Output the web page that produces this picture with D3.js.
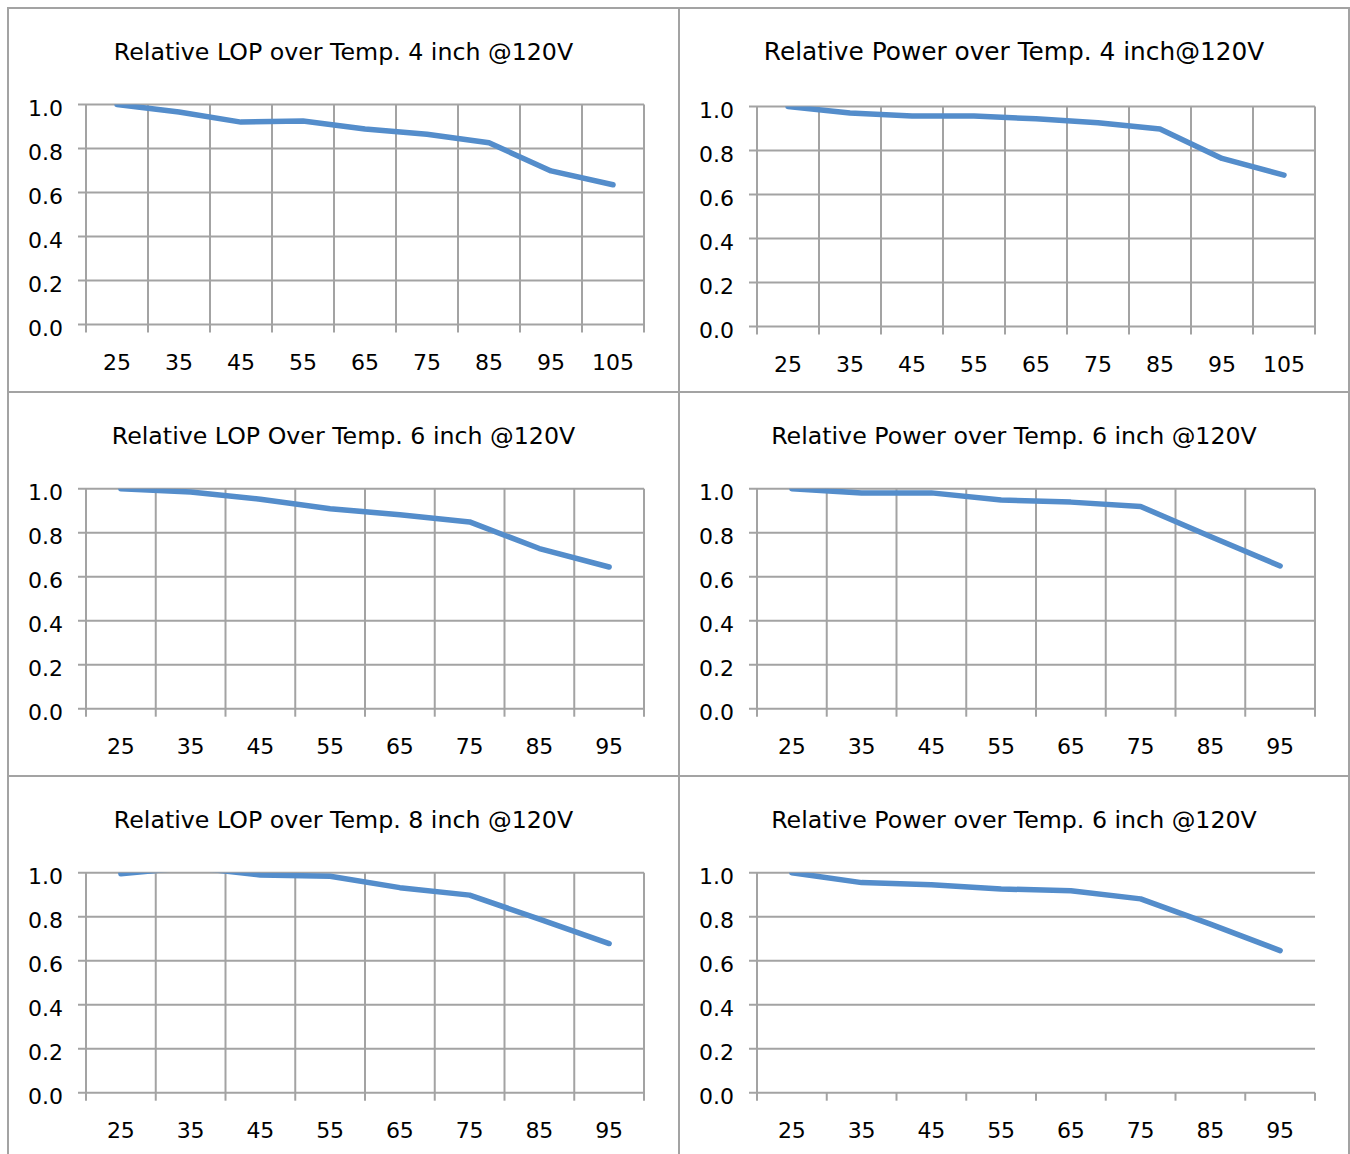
<!DOCTYPE html>
<html>
<head>
<meta charset="utf-8">
<script src="https://cdn.jsdelivr.net/npm/d3@7"></script>
<style>
  body { margin: 0; background: #fff; }
  svg text { font-family: "DejaVu Sans", Verdana, sans-serif; fill: #000; }
</style>
</head>
<body>
<div id="chart"></div>
<script>
// categories (temperature, deg C)
const temps9 = [25, 35, 45, 55, 65, 75, 85, 95, 105];
const temps8 = [25, 35, 45, 55, 65, 75, 85, 95];

const titles = [
  "Relative LOP over Temp. 4 inch @120V",
  "Relative Power over Temp. 4 inch@120V",
  "Relative LOP Over Temp. 6 inch @120V",
  "Relative Power over Temp. 6 inch @120V",
  "Relative LOP over Temp. 8 inch @120V",
  "Relative Power over Temp. 6 inch @120V"
];

// series values
const lop4 = [1.0, 0.966, 0.92, 0.925, 0.889, 0.865, 0.826, 0.698, 0.635];
const power4 = [1.0, 0.97, 0.957, 0.957, 0.944, 0.926, 0.898, 0.764, 0.688];
const lop6 = [1.0, 0.985, 0.952, 0.909, 0.882, 0.849, 0.728, 0.644];
const power6 = [1.0, 0.981, 0.981, 0.949, 0.939, 0.919, 0.783, 0.649];
const lop8 = [0.995, 1.025, 0.99, 0.984, 0.932, 0.898, 0.789, 0.678];
const power6b = [1.0, 0.955, 0.945, 0.926, 0.918, 0.881, 0.766, 0.646];

const yTicks = [0, 0.2, 0.4, 0.6, 0.8, 1.0];

const charts = [
  { title: titles[0], cats: temps9, values: lop4, vgrid: true },
  { title: titles[1], cats: temps9, values: power4, vgrid: true },
  { title: titles[2], cats: temps8, values: lop6, vgrid: true },
  { title: titles[3], cats: temps8, values: power6, vgrid: true },
  { title: titles[4], cats: temps8, values: lop8, vgrid: true },
  { title: titles[5], cats: temps8, values: power6b, vgrid: false }
];

const width = 1350;
const height = 1154;
const gridColor = "#a3a3a3";
const lineColor = "#548dcb";

// panel boxes and plot areas
const colX = [8, 679];
const colW = [671, 670];
const rowY = [8, 392, 776];
const rowH = 384;
const plotLeft = [86, 757];
const plotTop = [[104.5, 106.5], [488.7, 488.7], [872.7, 872.7]];
const plotW = 558;
const plotH = 220;
// the top right title is set a bit larger in the original
const titleSize = ["23.7px", "24.8px", "23.7px", "23.7px", "23.7px", "23.7px"];

const svg = d3
  .select("#chart")
  .append("svg")
  .attr("width", width)
  .attr("height", height);

charts.forEach((c, i) => {
  const col = i % 2;
  const row = Math.floor(i / 2);
  const left = plotLeft[col];
  const top = plotTop[row][col];

  // panel frame
  svg
    .append("rect")
    .attr("x", colX[col])
    .attr("y", rowY[row])
    .attr("width", colW[col])
    .attr("height", rowH)
    .attr("fill", "none")
    .attr("stroke", gridColor)
    .attr("stroke-width", 2);

  // title
  svg
    .append("text")
    .attr("x", colX[col] + colW[col] / 2)
    .attr("y", rowY[row] + 52)
    .attr("text-anchor", "middle")
    .attr("font-size", titleSize[i])
    .text(c.title);

  const g = svg.append("g").attr("transform", `translate(${left},${top})`);

  const x = d3.scaleBand().domain(c.cats).range([0, plotW]).padding(0);
  const y = d3.scaleLinear().domain([0, 1]).range([plotH, 0]);

  // horizontal gridlines
  g.selectAll(".hgrid")
    .data(yTicks)
    .enter()
    .append("line")
    .attr("x1", -8)
    .attr("x2", plotW)
    .attr("y1", (d) => y(d))
    .attr("y2", (d) => y(d))
    .attr("stroke", gridColor)
    .attr("stroke-width", 2);

  // category boundaries: vertical gridlines or only tick marks
  const edges = c.cats.map((d) => x(d)).concat([plotW]);
  g.selectAll(".vgrid")
    .data(edges)
    .enter()
    .append("line")
    .attr("x1", (d) => d)
    .attr("x2", (d) => d)
    .attr("y1", (d, k) => (c.vgrid || k === 0 ? 0 : plotH))
    .attr("y2", plotH + 8)
    .attr("stroke", gridColor)
    .attr("stroke-width", 2);

  // y tick labels
  g.selectAll(".ylab")
    .data(yTicks)
    .enter()
    .append("text")
    .attr("x", -23)
    .attr("y", (d) => y(d) + 11)
    .attr("text-anchor", "end")
    .attr("font-size", "22px")
    .text((d) => d3.format(".1f")(d));

  // x tick labels
  g.selectAll(".xlab")
    .data(c.cats)
    .enter()
    .append("text")
    .attr("x", (d) => x(d) + x.bandwidth() / 2)
    .attr("y", plotH + 45)
    .attr("text-anchor", "middle")
    .attr("font-size", "22px")
    .text((d) => d);

  // clip the series to the plot area like the original
  const clipId = "clip" + i;
  g.append("clipPath")
    .attr("id", clipId)
    .append("rect")
    .attr("x", 0)
    .attr("y", 0)
    .attr("width", plotW)
    .attr("height", plotH);

  const line = d3
    .line()
    .x((d, k) => x(c.cats[k]) + x.bandwidth() / 2)
    .y((d) => y(d));

  g.append("path")
    .attr("clip-path", `url(#${clipId})`)
    .attr("d", line(c.values))
    .attr("fill", "none")
    .attr("stroke", lineColor)
    .attr("stroke-width", 5.5)
    .attr("stroke-linejoin", "round")
    .attr("stroke-linecap", "round");
});
</script>
</body>
</html>
